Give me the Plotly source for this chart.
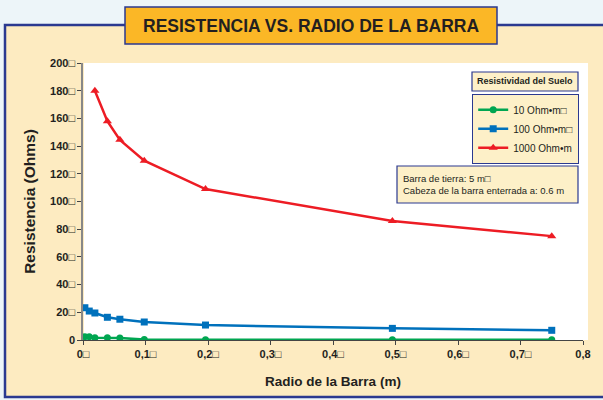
import plotly.graph_objects as go

radio = [0.003, 0.010, 0.019, 0.039, 0.059, 0.098, 0.196, 0.495, 0.750]
r_10 = [2.4, 2.4, 1.7, 1.7, 1.4, 0.3, 0.2, 0.1, 0.1]
r_100 = [23.3, 20.9, 19.5, 16.4, 15.0, 13.0, 10.8, 8.4, 7.0]
r_1000 = [None, None, 180, 158, 144.5, 129.5, 109, 86, 75]

x_ticks = [0, 0.1, 0.2, 0.3, 0.4, 0.5, 0.6, 0.7, 0.8]
x_ticktext = ["0□", "0,1□", "0,2□", "0,3□", "0,4□", "0,5□", "0,6□", "0,7□", "0,8"]
y_ticks = [0, 20, 40, 60, 80, 100, 120, 140, 160, 180, 200]
y_ticktext = ["0", "20□", "40□", "60□", "80□", "100□", "120□", "140□", "160□", "180□", "200□"]

series_names = ["10 Ohm•m□", "100 Ohm•m□", "1000 Ohm•m"]

W, H = 603, 400
L, R, T, B = 83, 583, 63, 340
NAVY = "#2B3990"
CREAM = "#FDEBC1"
FONT = "Liberation Sans"


def px(x):
    return (x - L) / (R - L)


def py(y):
    return (B - y) / (B - T)


fig = go.Figure()
fig.add_trace(go.Scatter(x=radio, y=r_10, name=series_names[0], mode="lines+markers",
                         line=dict(color="#00A651", width=2.5),
                         marker=dict(symbol="circle", size=7, color="#00A651"),
                         legendgroup="a"))
fig.add_trace(go.Scatter(x=radio, y=r_100, name=series_names[1], mode="lines+markers",
                         line=dict(color="#0071BC", width=2.5),
                         marker=dict(symbol="square", size=7, color="#0071BC"),
                         legendgroup="b"))
fig.add_trace(go.Scatter(x=radio, y=r_1000, name=series_names[2], mode="lines+markers",
                         line=dict(color="#ED1C24", width=2.5),
                         marker=dict(symbol="triangle-up", size=8, color="#ED1C24"),
                         legendgroup="c", connectgaps=False))

shapes = [
    dict(type="rect", xref="paper", yref="paper", x0=px(5), x1=px(640), y0=py(25), y1=py(397),
         fillcolor=CREAM, line=dict(color=NAVY, width=2.5), layer="below"),
    dict(type="rect", xref="paper", yref="paper", x0=px(84), x1=px(588), y0=py(340), y1=py(63),
         fillcolor="white", line=dict(width=0), layer="below"),
    dict(type="rect", xref="paper", yref="paper", x0=px(125), x1=px(497), y0=py(44), y1=py(7),
         fillcolor="#FBB726", line=dict(color=NAVY, width=1.5), layer="above"),
    dict(type="rect", xref="paper", yref="paper", x0=px(472), x1=px(578), y0=py(91), y1=py(72),
         fillcolor="#FDF0C8", line=dict(color=NAVY, width=1.2), layer="above"),
    dict(type="rect", xref="paper", yref="paper", x0=px(397), x1=px(578), y0=py(203), y1=py(166),
         fillcolor="#FDF0C8", line=dict(color=NAVY, width=1.2), layer="above"),
]

annotations = [
    dict(text="<b>RESISTENCIA VS. RADIO DE LA BARRA</b>", xref="paper", yref="paper",
         x=px(311), y=py(25.5), showarrow=False, xanchor="center", yanchor="middle",
         font=dict(family=FONT, size=17.5, color="#231F20")),
    dict(text="<b>Resistividad del Suelo</b>", xref="paper", yref="paper",
         x=px(525), y=py(81.5), showarrow=False, xanchor="center", yanchor="middle",
         font=dict(family=FONT, size=9, color="#231F20")),
    dict(text="Barra de tierra: 5 m□<br>Cabeza de la barra enterrada a: 0.6 m", xref="paper", yref="paper",
         x=px(401), y=py(184.5), showarrow=False, xanchor="left", yanchor="middle", align="left",
         font=dict(family=FONT, size=9.5, color="#231F20")),
]

fig.update_layout(
    width=W, height=H,
    margin=dict(l=L, r=W - R, t=T, b=H - B, pad=0),
    paper_bgcolor="#EDF5F9",
    plot_bgcolor="white",
    font=dict(family=FONT, color="#231F20"),
    shapes=shapes,
    annotations=annotations,
    showlegend=True,
    legend=dict(x=px(472), y=py(94), xanchor="left", yanchor="top",
                bgcolor="#FDF0C8", bordercolor=NAVY, borderwidth=1.2,
                font=dict(family=FONT, size=10, color="#231F20"),
                traceorder="grouped", tracegroupgap=0, itemwidth=30),
    xaxis=dict(range=[0, 0.8], tickvals=x_ticks, ticktext=["<b>%s</b>" % t for t in x_ticktext],
               showgrid=False, zeroline=False, showline=True, linecolor="#444", linewidth=1,
               ticks="outside", ticklen=4, tickcolor="#444",
               tickfont=dict(family=FONT, size=11, color="#231F20"),
               title=dict(text="<b>Radio de la Barra (m)</b>", standoff=17,
                          font=dict(family=FONT, size=13.5, color="#231F20"))),
    yaxis=dict(range=[0, 200], tickvals=y_ticks, ticktext=["<b>%s</b>" % t for t in y_ticktext],
               showgrid=False, zeroline=False, showline=True, linecolor="#888", linewidth=1.5,
               ticks="outside", ticklen=4, tickcolor="#444",
               tickfont=dict(family=FONT, size=11, color="#231F20"),
               title=dict(text="<b>Resistencia (Ohms)</b>", standoff=11,
                          font=dict(family=FONT, size=15.5, color="#231F20"))),
)

fig.write_html("out.html", config={"displayModeBar": False},
               post_script="document.body.style.margin='0';document.body.style.padding='0';")
